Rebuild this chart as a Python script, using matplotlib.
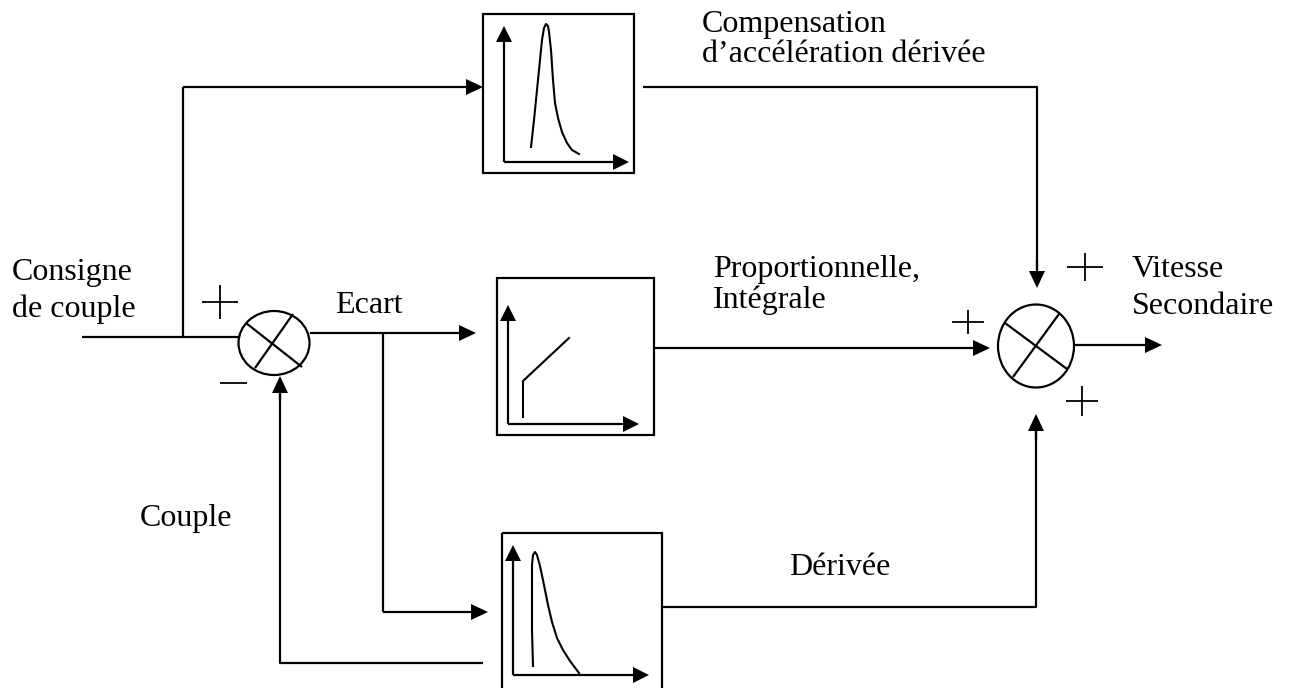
"""Schéma bloc : régulation de vitesse secondaire (P+I, dérivée, compensation)."""

import matplotlib
matplotlib.use("Agg")
import matplotlib.pyplot as plt
from matplotlib.patches import Rectangle, Ellipse, Polygon

# Labels
LABEL_TOP = ["Compensation", "d\u2019accélération dérivée"]
LABEL_PI = ["Proportionnelle,", "Intégrale"]
LABEL_D = ["Dérivée"]
LABEL_IN = ["Consigne", "de couple"]
LABEL_OUT = ["Vitesse", "Secondaire"]
LABEL_ERR = ["Ecart"]
LABEL_FB = ["Couple"]

# Sketch shapes drawn inside the blocks (pixel coords)
pulse_top_x = [531, 534, 537, 540, 542, 544, 546, 548, 549, 551, 553, 555,
               558, 562, 567, 572, 579]
pulse_top_y = [147, 120, 90, 60, 40, 28, 24, 26, 32, 50, 80, 103,
               118, 132, 143, 150, 154]
pulse_bot_x = [533, 532, 532, 532, 533, 535, 537, 540, 544, 548, 552, 557,
               563, 570, 579]
pulse_bot_y = [666, 630, 590, 565, 555, 552, 555, 566, 585, 605, 622, 638,
               650, 661, 673]
step_x = [523, 523, 569]
step_y = [417, 381, 338]

LW = 1.6
FS = 23
FONT = ["Liberation Serif", "DejaVu Serif"]


def arrow(ax, xs, ys, head=17, half=8):
    """Polyline ending in a filled triangular arrow head."""
    x0, y0, x1, y1 = xs[-2], ys[-2], xs[-1], ys[-1]
    dx, dy = x1 - x0, y1 - y0
    n = (dx ** 2 + dy ** 2) ** 0.5
    ux, uy = dx / n, dy / n
    bx, by = x1 - ux * head, y1 - uy * head
    ax.plot(list(xs[:-1]) + [bx], list(ys[:-1]) + [by], color="black", lw=LW,
            solid_capstyle="butt")
    tri = [(x1, y1), (bx - uy * half, by + ux * half), (bx + uy * half, by - ux * half)]
    ax.add_patch(Polygon(tri, closed=True, color="black", lw=0))


def line(ax, xs, ys, lw=LW):
    ax.plot(xs, ys, color="black", lw=lw, solid_capstyle="butt")


def block(ax, x0, y0, x1, y1, yaxis_x, xaxis_y, ytip, xtip):
    ax.add_patch(Rectangle((x0, y0), x1 - x0, y1 - y0, fill=False,
                           edgecolor="black", lw=LW))
    arrow(ax, [yaxis_x, yaxis_x], [xaxis_y, ytip], head=16, half=8)
    arrow(ax, [yaxis_x, xtip], [xaxis_y, xaxis_y], head=16, half=8)


def summer(ax, cx, cy, w, h, c1, c2):
    ax.add_patch(Ellipse((cx, cy), w, h, fill=False, edgecolor="black", lw=LW))
    line(ax, [c1[0], c1[2]], [c1[1], c1[3]])
    line(ax, [c2[0], c2[2]], [c2[1], c2[3]])


def plus(ax, cx, cy, hw, hh):
    line(ax, [cx - hw, cx + hw], [cy, cy], lw=1.3)
    line(ax, [cx, cx], [cy - hh, cy + hh], lw=1.3)


def text(ax, x, y, lines, dy=37):
    for i, s in enumerate(lines):
        ax.text(x, y + i * dy, s, fontsize=FS, family=FONT, va="baseline",
                ha="left", color="black")


def main() -> None:
    fig = plt.figure(figsize=(12.9, 6.88), dpi=100)
    ax = fig.add_axes([0, 0, 1, 1])
    ax.set_xlim(0, 1290)
    ax.set_ylim(688, 0)
    ax.axis("off")

    # Blocks
    block(ax, 483, 14, 634, 173, 504, 162, 26, 629)
    ax.plot(pulse_top_x, pulse_top_y, color="black", lw=1.5,
            solid_joinstyle="round")
    block(ax, 497, 278, 654, 435, 508, 424, 305, 639)
    ax.plot(step_x, step_y, color="black", lw=1.5)
    block(ax, 502, 533, 662, 692, 513, 675, 545, 649)
    ax.plot(pulse_bot_x, pulse_bot_y, color="black", lw=1.5,
            solid_joinstyle="round")

    # Summing junctions
    summer(ax, 274, 343, 71, 64, (246, 323, 302, 367), (293, 314, 255, 368))
    summer(ax, 1036, 346, 76, 83, (1005, 323, 1067, 369), (1059, 314, 1013, 377))

    # Input and feed-forward branch
    line(ax, [82, 239], [337, 337])
    line(ax, [183, 183], [337, 87])
    arrow(ax, [183, 483], [87, 87])
    line(ax, [643, 1037, 1037], [87, 87, 270])
    arrow(ax, [1037, 1037], [260, 288])

    # Error path
    arrow(ax, [310, 476], [333, 333])
    line(ax, [383, 383], [333, 612])
    arrow(ax, [383, 488], [612, 612])

    # P+I output
    arrow(ax, [654, 990], [348, 348])

    # Derivative output
    line(ax, [662, 1036, 1036], [607, 607, 430])
    arrow(ax, [1036, 1036], [440, 414])

    # Output
    arrow(ax, [1074, 1162], [345, 345])

    # Feedback
    line(ax, [483, 280, 280], [663, 663, 390])
    arrow(ax, [280, 280], [400, 376])

    # Signs
    plus(ax, 220, 302, 18, 17)
    line(ax, [220, 247], [383, 383], lw=1.3)
    plus(ax, 968, 322, 16, 12)
    plus(ax, 1085, 267, 18, 14)
    plus(ax, 1082, 401, 16, 15)

    # Labels
    text(ax, 702, 32, LABEL_TOP, dy=30)
    text(ax, 713, 277, LABEL_PI, dy=31)
    text(ax, 789, 575, LABEL_D)
    text(ax, 12, 280, LABEL_IN)
    text(ax, 1132, 277, LABEL_OUT)
    text(ax, 335, 313, LABEL_ERR)
    text(ax, 140, 526, LABEL_FB)

    fig.savefig("out.png", dpi=100, facecolor="white")


if __name__ == "__main__":
    main()
